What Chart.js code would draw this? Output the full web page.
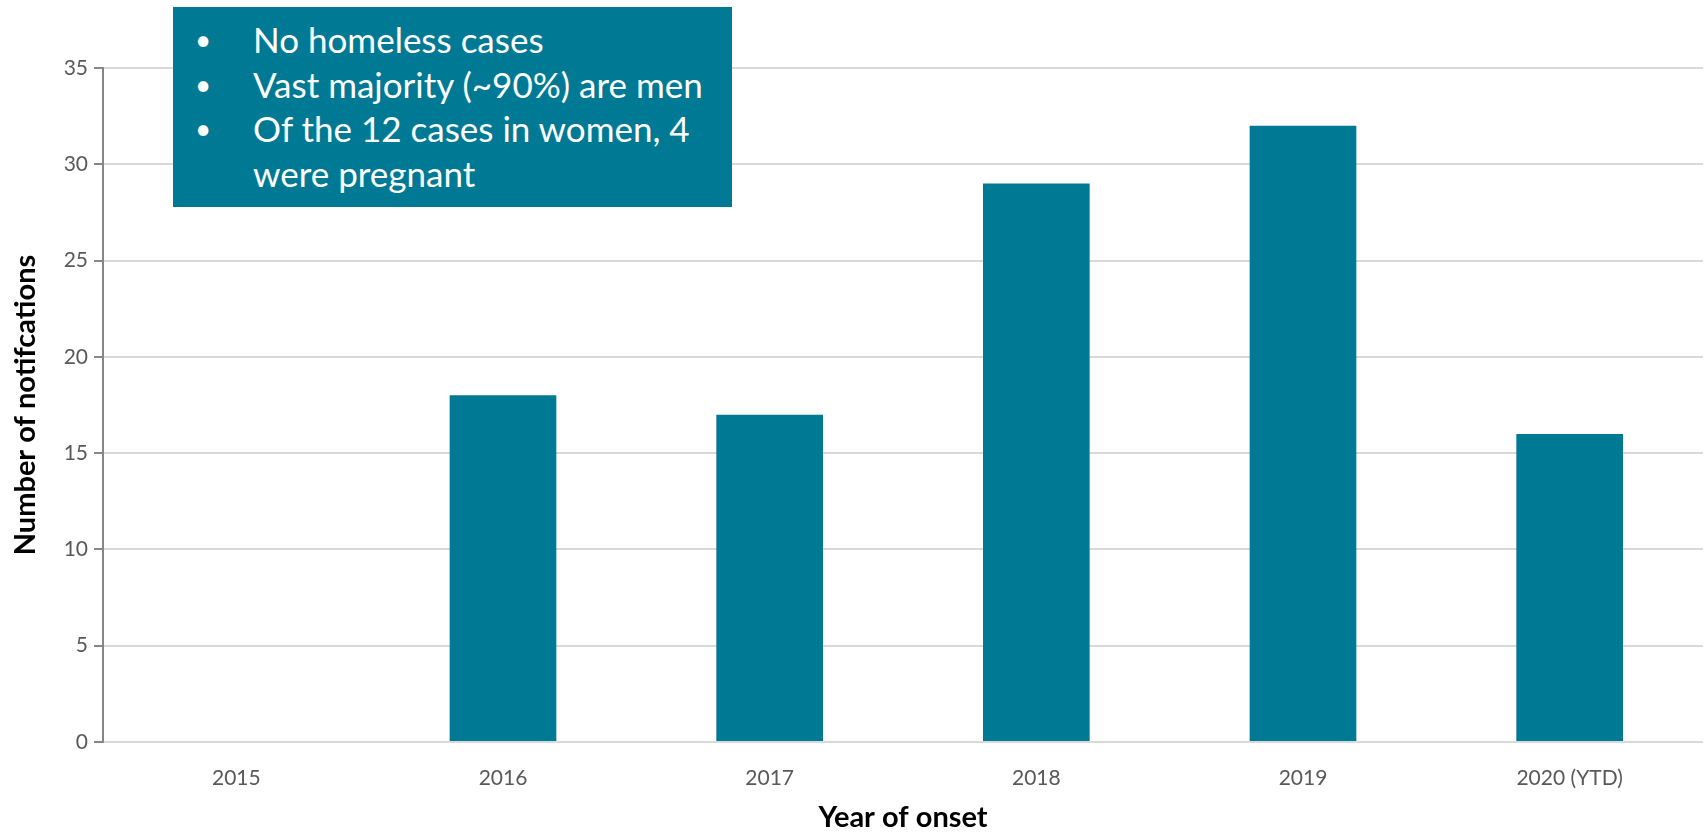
<!DOCTYPE html>
<html>
<head>
<meta charset="utf-8">
<script src="https://cdn.jsdelivr.net/npm/chart.js@4/dist/chart.umd.min.js"></script>
<style>
  html, body { margin: 0; padding: 0; background: #fff; }
  #wrap { position: relative; width: 1706px; height: 835px; }
  #c { position: absolute; left: 0; top: 0; }
  #note {
    position: absolute; left: 173px; top: 7px; width: 559px; height: 200px;
    background: #007A94; color: #fff; font-family: Lato, "Open Sans", sans-serif;
    font-size: 35px; box-sizing: border-box; padding: 10px 0 0 0; line-height: 44.6px;
  }
  #note ul { margin: 0; padding: 0; list-style: none; }
  #note li { position: relative; padding-left: 80px; white-space: nowrap; }
  #note li::before { content: "•"; position: absolute; left: 22px; font-size: 28px; }
</style>
</head>
<body>
<div id="wrap">
  <canvas id="c" width="1706" height="835"></canvas>
  <div id="note">
    <ul>
      <li>No homeless cases</li>
      <li>Vast majority (~90%) are men</li>
      <li>Of the 12 cases in women, 4<br>were pregnant</li>
    </ul>
  </div>
</div>
<script>
const categories = ["2015", "2016", "2017", "2018", "2019", "2020 (YTD)"];
const notifications = [0, 18, 17, 29, 32, 16];
const yTicks = [0, 5, 10, 15, 20, 25, 30, 35];
const xTitle = "Year of onset";
const yTitle = "Number of notifcations";

const FONT = "Lato, 'Open Sans', sans-serif";

new Chart(document.getElementById('c'), {
  type: 'bar',
  data: {
    labels: categories,
    datasets: [{
      data: notifications,
      backgroundColor: '#007A94',
      borderWidth: 0,
      categoryPercentage: 1.0,
      barPercentage: 0.4
    }]
  },
  options: {
    responsive: false,
    animation: false,
    layout: { padding: { top: 68, right: 3, left: 0, bottom: 0 } },
    plugins: { legend: { display: false }, tooltip: { enabled: false } },
    scales: {
      x: {
        grid: { display: false, drawTicks: false },
        border: { display: false },
        ticks: { color: '#595959', font: { family: FONT, size: 21 }, padding: 24, maxRotation: 0 },
        title: { display: true, text: xTitle, color: '#000', font: { family: FONT, size: 29, weight: 'bold' }, padding: { top: 0, bottom: 0 } },
        afterFit: (s) => { s.height = 93; }
      },
      y: {
        min: 0, max: 35,
        afterBuildTicks: (s) => { s.ticks = yTicks.map(v => ({ value: v })); },
        grid: { color: '#D9D9D9', lineWidth: 2, tickLength: 9, tickColor: '#868686' },
        border: { display: true, color: '#868686', width: 2 },
        ticks: { color: '#595959', font: { family: FONT, size: 21 }, padding: 6 },
        title: { display: true, text: yTitle, color: '#000', font: { family: FONT, size: 29, weight: 'bold' }, padding: { top: 8, bottom: 0 } },
        afterFit: (s) => { s.width = 103; }
      }
    }
  }
});
</script>
</body>
</html>
